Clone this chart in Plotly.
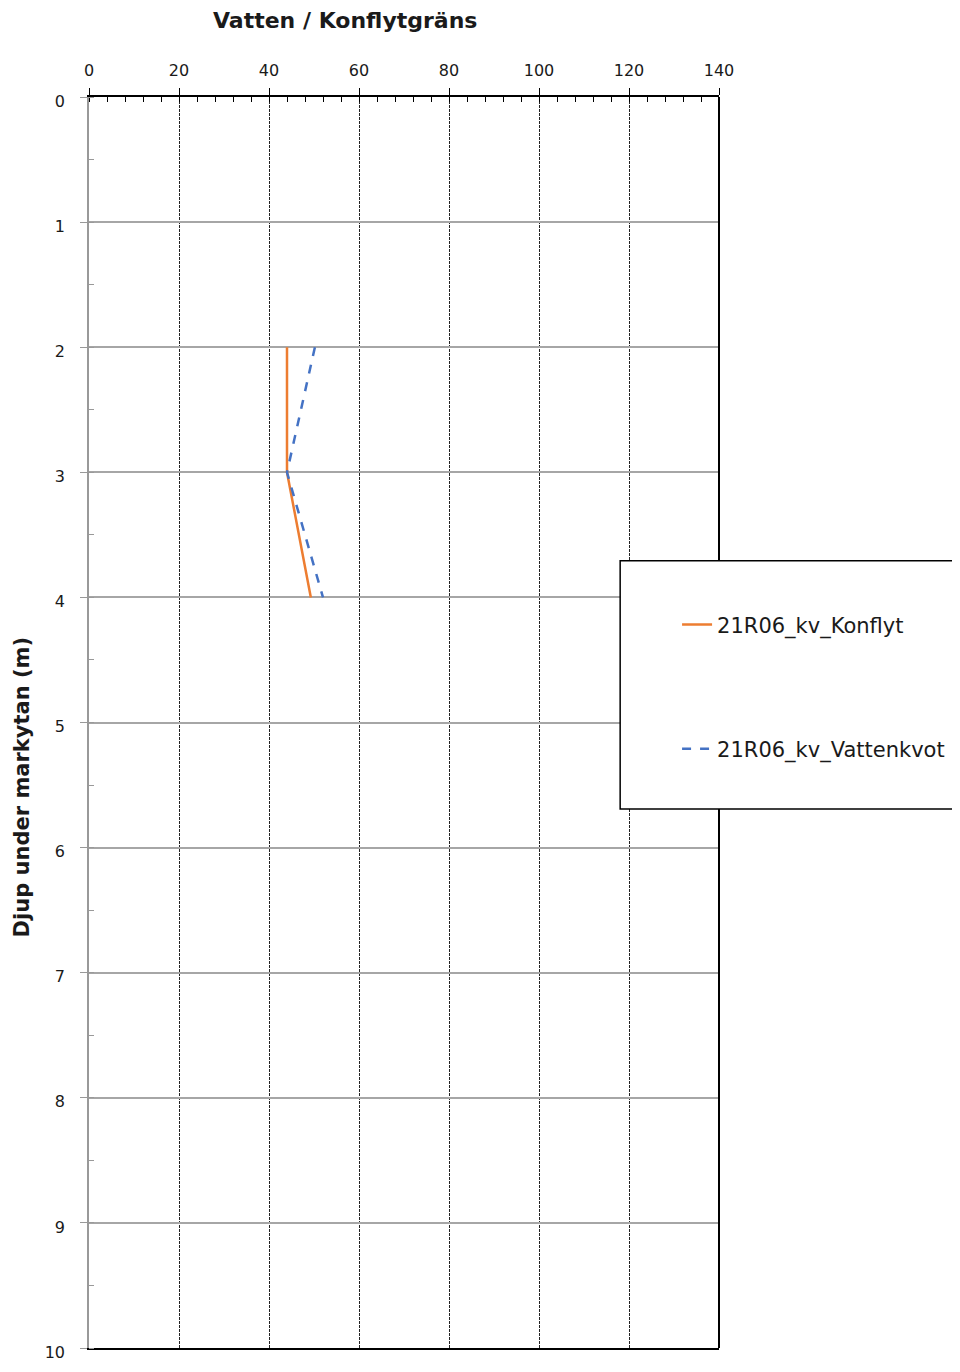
import plotly.graph_objects as go

depth = [2, 3, 4]
konflyt = [44, 44, 49.3]
vattenkvot = [50.2, 44, 52]
names = ["21R06_kv_Konflyt", "21R06_kv_Vattenkvot"]
x_ticks = [0, 20, 40, 60, 80, 100, 120, 140]
y_ticks = list(range(0, 11))

FONT = "DejaVu Sans"

fig = go.Figure()
fig.add_trace(go.Scatter(x=konflyt, y=depth, mode="lines", name=names[0],
                         line=dict(color="#ED7D31", width=2.5), legendgroup="a"))
fig.add_trace(go.Scatter(x=vattenkvot, y=depth, mode="lines", name=names[1],
                         line=dict(color="#4472C4", width=2.5, dash="dash"), legendgroup="b"))

OFF = 8  # page body margin
W, H = 960 - 2 * OFF, 1372 - 2 * OFF
L, T, R, B = 89, 97, 720, 1362
PW = R - L
PH = B - T

def px_x(p):
    return (p - L) / PW

def px_y(p):
    return (B - p) / PH

fig.update_layout(
    width=W, height=H,
    margin=dict(l=L - OFF, r=W - (R - OFF), t=T - OFF, b=H - (B - OFF), pad=0),
    paper_bgcolor="white", plot_bgcolor="white",
    font=dict(family=FONT, size=15, color="#1a1a1a"),
    showlegend=True,
    legend=dict(x=px_x(678), y=px_y(610), xanchor="left", yanchor="top",
                bgcolor="rgba(0,0,0,0)", borderwidth=0,
                tracegroupgap=94, traceorder="grouped",
                font=dict(family=FONT, size=21, color="#1a1a1a")),
    xaxis=dict(side="top", range=[0, 140], tickvals=x_ticks,
               showline=True, linecolor="black", linewidth=2, mirror=True,
               ticks="outside", ticklen=7, tickcolor="black", tickwidth=1,
               ticklabelstandoff=6,
               showgrid=True, gridcolor="#222222", gridwidth=1, griddash="3px,1px",
               zeroline=False,
               minor=dict(dtick=4, ticks="inside", ticklen=5, tickcolor="black", showgrid=False),
               tickfont=dict(size=16, family=FONT)),
    yaxis=dict(range=[10, 0], tickvals=y_ticks,
               showline=True, linecolor="#999999", linewidth=1.5,
               ticks="outside", ticklen=7, tickcolor="#999999",
               ticklabelstandoff=12, ticklabeloverflow="allow", ticklabelshift=-4,
               showgrid=True, gridcolor="#A6A6A6", gridwidth=1.5,
               zeroline=False,
               minor=dict(dtick=0.5, ticks="inside", ticklen=5, tickcolor="#999999", showgrid=False),
               tickfont=dict(size=16, family=FONT)),
    shapes=[
        dict(type="line", xref="x domain", yref="y domain", x0=1, x1=1, y0=0, y1=1,
             line=dict(color="black", width=2)),
        dict(type="rect", xref="paper", yref="paper", x0=px_x(621), x1=px_x(990),
             y0=px_y(817), y1=px_y(566), line=dict(color="black", width=1.5),
             fillcolor="white", layer="above"),
    ],
    annotations=[
        dict(text="<b>Vatten / Konflytgräns</b>", xref="paper", yref="paper",
             x=px_x(345), y=px_y(20), xanchor="center", yanchor="middle",
             showarrow=False, font=dict(size=22, family=FONT, color="#1a1a1a")),
        dict(text="<b>Djup under markytan (m)</b>", xref="paper", yref="paper",
             x=px_x(22), y=px_y(795), xanchor="center", yanchor="middle",
             textangle=-90, showarrow=False,
             font=dict(size=21, family=FONT, color="#1a1a1a")),
    ],
)

fig.write_html("out.html", config={"displayModeBar": False})
